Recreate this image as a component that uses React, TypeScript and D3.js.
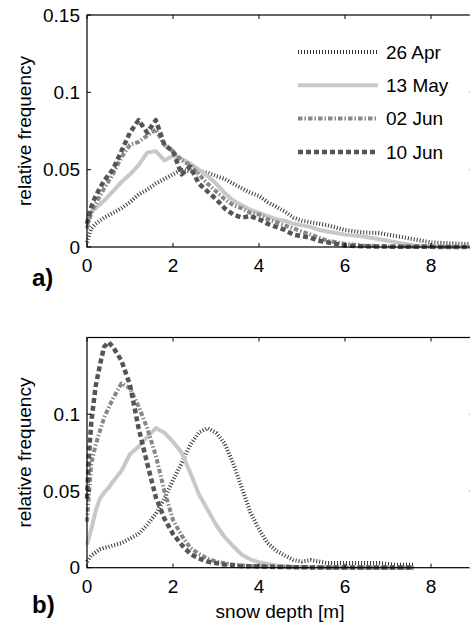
import React from "react";
import * as d3 from "d3";

// snow depth bins [m]
const depthA = [0, 0.1, 0.2, 0.4, 0.6, 0.8, 1.0, 1.2, 1.4, 1.6, 1.8, 2.0, 2.2, 2.4, 2.6, 2.8, 3.0, 3.2, 3.4, 3.6, 3.8, 4.0, 4.2, 4.4, 4.6, 4.8, 5.0, 5.2, 5.4, 5.6, 6.0, 6.4, 6.8, 7.2, 7.6, 8.0, 8.4, 8.8, 9.0];
const apr26A = [0.003, 0.012, 0.015, 0.019, 0.022, 0.025, 0.029, 0.034, 0.037, 0.041, 0.044, 0.047, 0.05, 0.049, 0.049, 0.048, 0.046, 0.044, 0.041, 0.038, 0.035, 0.033, 0.029, 0.026, 0.023, 0.019, 0.017, 0.016, 0.015, 0.014, 0.011, 0.0095, 0.009, 0.007, 0.005, 0.003, 0.0025, 0.002, 0.002];
const may13A = [0.018, 0.023, 0.025, 0.03, 0.036, 0.042, 0.047, 0.053, 0.061, 0.062, 0.056, 0.059, 0.057, 0.054, 0.05, 0.046, 0.041, 0.035, 0.03, 0.027, 0.024, 0.022, 0.02, 0.018, 0.017, 0.015, 0.014, 0.013, 0.011, 0.01, 0.008, 0.007, 0.005, 0.003, 0.001, 0.0005, 0.0002, 0, 0];
const jun02A = [0.012, 0.022, 0.028, 0.038, 0.047, 0.058, 0.066, 0.068, 0.072, 0.076, 0.066, 0.062, 0.056, 0.053, 0.047, 0.041, 0.036, 0.031, 0.027, 0.025, 0.022, 0.021, 0.018, 0.016, 0.014, 0.012, 0.01, 0.008, 0.006, 0.004, 0.002, 0.001, 0.0005, 0.0003, 0.0002, 0.0001, 0, 0, 0];
const jun10A = [0.015, 0.026, 0.033, 0.043, 0.05, 0.062, 0.074, 0.082, 0.074, 0.082, 0.066, 0.062, 0.047, 0.052, 0.041, 0.036, 0.031, 0.025, 0.021, 0.019, 0.02, 0.018, 0.015, 0.013, 0.011, 0.008, 0.007, 0.006, 0.004, 0.003, 0.001, 0.0005, 0.0003, 0.0002, 0.0001, 0.0001, 0, 0, 0];

const depthB = [0, 0.05, 0.1, 0.2, 0.3, 0.4, 0.5, 0.6, 0.8, 1.0, 1.2, 1.4, 1.6, 1.8, 2.0, 2.2, 2.4, 2.6, 2.8, 3.0, 3.2, 3.4, 3.6, 3.8, 4.0, 4.2, 4.4, 4.6, 4.8, 5.0, 5.2, 5.6, 6.0, 6.4, 6.8, 7.2, 7.6];
const apr26B = [0.004, 0.006, 0.008, 0.01, 0.012, 0.013, 0.0135, 0.0145, 0.016, 0.019, 0.022, 0.028, 0.035, 0.045, 0.057, 0.068, 0.08, 0.088, 0.091, 0.088, 0.081, 0.068, 0.052, 0.036, 0.025, 0.016, 0.011, 0.008, 0.005, 0.004, 0.005, 0.003, 0.003, 0.003, 0.003, 0.002, 0.002];
const may13B = [0.015, 0.02, 0.025, 0.037, 0.045, 0.049, 0.052, 0.056, 0.063, 0.074, 0.079, 0.085, 0.091, 0.088, 0.082, 0.075, 0.062, 0.048, 0.038, 0.028, 0.02, 0.014, 0.0085, 0.0055, 0.0035, 0.0025, 0.0015, 0.001, 0.0006, 0.0004, 0.0003, 0.0002, 0.0001, 0.0001, 0, 0, 0];
const jun02B = [0.03, 0.05, 0.068, 0.08, 0.089, 0.098, 0.104, 0.11, 0.12, 0.117, 0.105, 0.091, 0.073, 0.05, 0.031, 0.021, 0.013, 0.009, 0.006, 0.004, 0.003, 0.002, 0.0015, 0.001, 0.001, 0.0008, 0.0006, 0.0005, 0.0004, 0.0003, 0.0003, 0.0002, 0.0002, 0.0001, 0.0001, 0.0001, 0.0001];
const jun10B = [0.045, 0.075, 0.095, 0.118, 0.132, 0.144, 0.147, 0.144, 0.135, 0.119, 0.091, 0.068, 0.046, 0.032, 0.022, 0.015, 0.009, 0.006, 0.004, 0.003, 0.002, 0.0015, 0.001, 0.001, 0.0008, 0.0006, 0.0005, 0.0004, 0.0003, 0.0003, 0.0002, 0.0002, 0.0001, 0.0001, 0.0001, 0.0001, 0.0001];

const dates = ["26 Apr", "13 May", "02 Jun", "10 Jun"];
const xTicks = [0, 2, 4, 6, 8];
const yTicksA = [0, 0.05, 0.1, 0.15];
const yTicksB = [0, 0.05, 0.1];

const styles = [
  { stroke: "#333333", width: 4, dash: "1 2" },
  { stroke: "#c8c8c8", width: 4, dash: null },
  { stroke: "#888888", width: 4, dash: "4.5 2 1.5 2" },
  { stroke: "#555555", width: 4.5, dash: "5 3" },
];

const font = "'Liberation Sans', Arial, sans-serif";
const fs = 19;
const W = 470;
const H = 627;

function Panel({ top, bottom, depth, series, yTicks, label, labelY, xLabel, legend }) {
  const x = d3.scaleLinear().domain([0, 9]).range([87, 474]);
  const y = d3.scaleLinear().domain([0, 0.15]).range([bottom, top]);
  const line = d3
    .line<number>()
    .x((d, i) => x(depth[i]))
    .y((d) => y(d));
  const clipId = "clip" + label;
  return (
    <g>
      <defs>
        <clipPath id={clipId}>
          <rect x={x(0)} y={top} width={x(9) - x(0)} height={bottom - top} />
        </clipPath>
      </defs>
      <g clipPath={`url(#${clipId})`}>
        {series.map((s, i) => (
          <path
            key={i}
            d={line(s) || ""}
            fill="none"
            stroke={styles[i].stroke}
            strokeWidth={styles[i].width}
            strokeDasharray={styles[i].dash || undefined}
            strokeLinejoin="round"
          />
        ))}
      </g>
      <rect x={x(0)} y={top} width={x(9) - x(0)} height={bottom - top} fill="none" stroke="#000" strokeWidth={1.2} />
      {xTicks.map((t) => (
        <g key={"x" + t}>
          <line x1={x(t)} x2={x(t)} y1={bottom} y2={bottom - 4} stroke="#000" />
          <line x1={x(t)} x2={x(t)} y1={top} y2={top + 4} stroke="#000" />
          <text x={x(t)} y={bottom + 25} textAnchor="middle" fontSize={fs} fontFamily={font}>
            {t}
          </text>
        </g>
      ))}
      {yTicks.map((t) => (
        <g key={"y" + t}>
          <line x1={x(0)} x2={x(0) + 4} y1={y(t)} y2={y(t)} stroke="#000" />
          <line x1={x(9)} x2={x(9) - 5} y1={y(t)} y2={y(t)} stroke="#999" />
          <text x={80} y={y(t)} dy="0.35em" textAnchor="end" fontSize={fs} fontFamily={font}>
            {t}
          </text>
        </g>
      ))}
      <text
        transform={`translate(31,${(top + bottom) / 2}) rotate(-90)`}
        textAnchor="middle"
        fontSize={fs}
        fontFamily={font}
      >
        relative frequency
      </text>
      <text x={32} y={labelY} fontSize={24} fontWeight="bold" fontFamily={font}>
        {label}
      </text>
      {xLabel && (
        <text x={280} y={bottom + 50} textAnchor="middle" fontSize={fs} fontFamily={font}>
          {xLabel}
        </text>
      )}
      {legend &&
        dates.map((d, i) => (
          <g key={d} transform={`translate(0,${52 + i * 33.3})`}>
            <line
              x1={298}
              x2={378}
              y1={0}
              y2={0}
              stroke={styles[i].stroke}
              strokeWidth={styles[i].width}
              strokeDasharray={styles[i].dash || undefined}
            />
            <text x={386} y={0} dy="0.35em" fontSize={fs} fontFamily={font}>
              {d}
            </text>
          </g>
        ))}
    </g>
  );
}

export default function App() {
  return (
    <svg
      width={W}
      height={H}
      style={{ position: "absolute", left: 0, top: 0, background: "#fff" }}
    >
      <Panel
        top={15}
        bottom={247}
        depth={depthA}
        series={[apr26A, may13A, jun02A, jun10A]}
        yTicks={yTicksA}
        label="a)"
        labelY={286}
        xLabel={null}
        legend={true}
      />
      <Panel
        top={337.5}
        bottom={567.7}
        depth={depthB}
        series={[apr26B, may13B, jun02B, jun10B]}
        yTicks={yTicksB}
        label="b)"
        labelY={613}
        xLabel="snow depth [m]"
        legend={false}
      />
    </svg>
  );
}
